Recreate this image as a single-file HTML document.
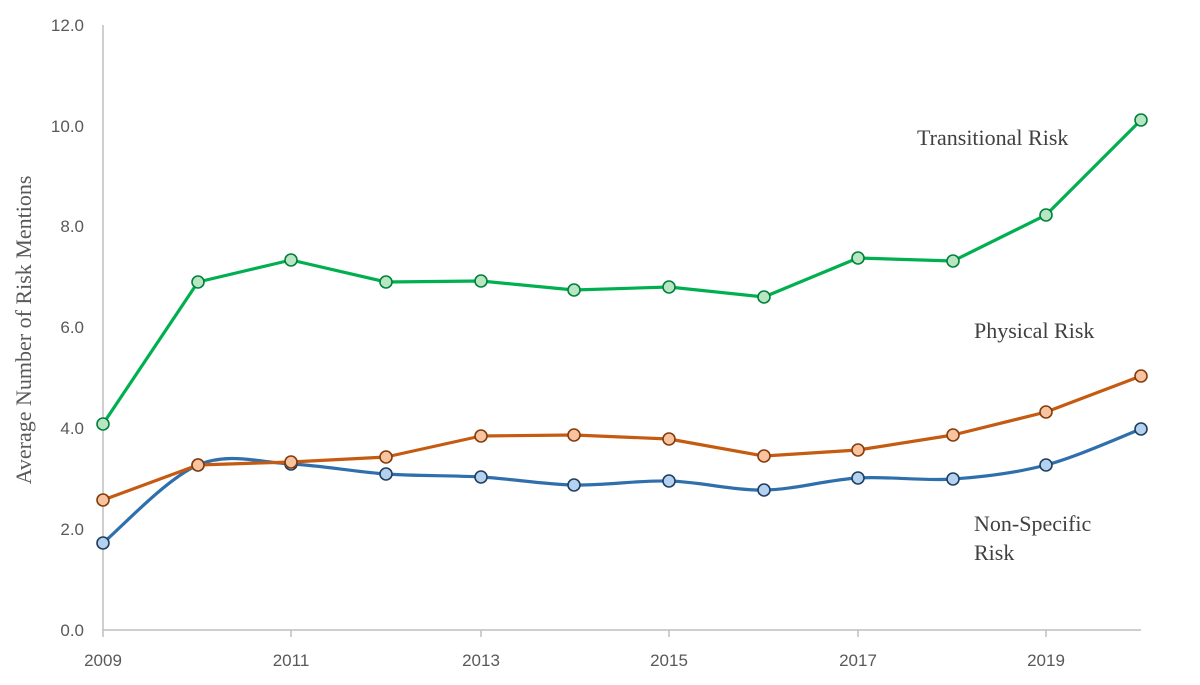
<!DOCTYPE html>
<html><head><meta charset="utf-8"><style>
html,body{margin:0;padding:0;background:#fff;}
svg{display:block;}
</style></head><body>
<svg id="s" width="1200" height="685" xmlns="http://www.w3.org/2000/svg">
<rect width="1200" height="685" fill="#fff"/>
<line x1="103" y1="25" x2="103" y2="630" stroke="#bfbfbf" stroke-width="1.5"/>
<line x1="103" y1="630" x2="1141" y2="630" stroke="#bfbfbf" stroke-width="1.5"/>
<g stroke="#bfbfbf" stroke-width="1.5">
<line x1="103" y1="630" x2="103" y2="637"/><line x1="291" y1="630" x2="291" y2="637"/><line x1="481" y1="630" x2="481" y2="637"/><line x1="669" y1="630" x2="669" y2="637"/><line x1="858" y1="630" x2="858" y2="637"/><line x1="1046" y1="630" x2="1046" y2="637"/>
</g>
<g font-family="Liberation Sans, sans-serif" font-size="17" fill="#595959" text-anchor="end">
<text x="84" y="636">0.0</text><text x="84" y="535">2.0</text><text x="84" y="434">4.0</text><text x="84" y="333">6.0</text><text x="84" y="232">8.0</text><text x="84" y="132">10.0</text><text x="84" y="31">12.0</text>
</g>
<g font-family="Liberation Sans, sans-serif" font-size="17" fill="#595959" text-anchor="middle">
<text x="103" y="666">2009</text><text x="291" y="666">2011</text><text x="481" y="666">2013</text><text x="669" y="666">2015</text><text x="858" y="666">2017</text><text x="1046" y="666">2019</text>
</g>
<text transform="translate(31,330) rotate(-90)" font-family="Liberation Serif, serif" font-size="22" fill="#595959" text-anchor="middle">Average Number of Risk Mentions</text>
<g font-family="Liberation Serif, serif" font-size="22" fill="#404040">
<text x="917" y="145">Transitional Risk</text>
<text x="974" y="338">Physical Risk</text>
<text x="974" y="531">Non-Specific</text>
<text x="974" y="560">Risk</text>
</g>
<g id="g"></g>
</svg>
<script>
var X=[103,198,291,386,481,574,669,764,858,953,1046,1141];
var G=[424,282,260,282,281,290,287,297,258,261,215,120];
var O=[500,465,462,457,436,435,439,456,450,435,412,376];
var B=[543,465,464,474,477,485,481,490,478,479,465,429];
function lin(Y){return 'M'+X.map((x,i)=>x+','+Y[i]).join(' L');}
function smooth(Y){var d='M'+X[0]+','+Y[0];for(var i=0;i<X.length-1;i++){var p0=i?i-1:0,p3=i+2<X.length?i+2:i+1;var t=1/6;
var c1x=X[i]+(X[i+1]-X[p0])*t,c1y=Y[i]+(Y[i+1]-Y[p0])*t,c2x=X[i+1]-(X[p3]-X[i])*t,c2y=Y[i+1]-(Y[p3]-Y[i])*t;
d+=' C'+c1x+','+c1y+' '+c2x+','+c2y+' '+X[i+1]+','+Y[i+1];}return d;}
var h='';
function ser(d,Y,st,mst,fi){h+='<path d="'+d+'" fill="none" stroke="'+st+'" stroke-width="3.2" stroke-linejoin="round"/>';
X.forEach((x,i)=>{h+='<circle cx="'+x+'" cy="'+Y[i]+'" r="6" fill="'+fi+'" stroke="'+mst+'" stroke-width="1.6"/>';});}
ser(smooth(B),B,'#2e6fac','#1f3f60','#b4d2ef');
ser(lin(O),O,'#c55a11','#843c0c','#f8c4a0');
ser(lin(G),G,'#00b050','#00803a','#b8e6c3');
document.getElementById('g').innerHTML=h;
</script>
</body></html>
